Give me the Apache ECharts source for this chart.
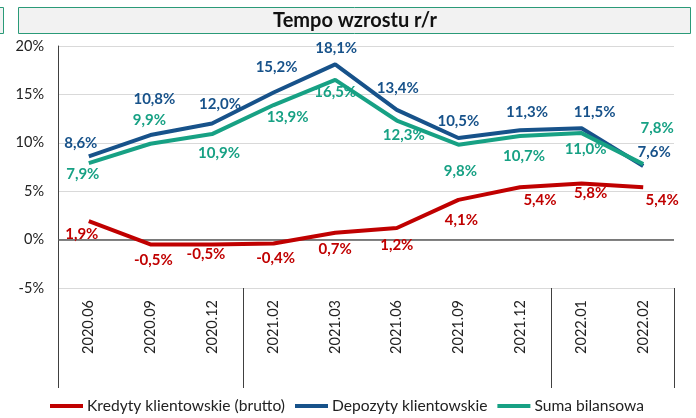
<!DOCTYPE html>
<html>
<head>
<meta charset="utf-8">
<script src="https://cdn.jsdelivr.net/npm/echarts@6/dist/echarts.min.js"></script>
<style>
html,body{margin:0;padding:0;background:#fff;}
#chart{width:696px;height:418px;}
</style>
</head>
<body>
<div id="chart"></div>
<script>
const categories = ['2020.06','2020.09','2020.12','2021.02','2021.03','2021.06','2021.09','2021.12','2022.01','2022.02'];
const kredyty = [1.9, -0.5, -0.5, -0.4, 0.7, 1.2, 4.1, 5.4, 5.8, 5.4];
const depozyty = [8.6, 10.8, 12.0, 15.2, 18.1, 13.4, 10.5, 11.3, 11.5, 7.6];
const suma = [7.9, 9.9, 10.9, 13.9, 16.5, 12.3, 9.8, 10.7, 11.0, 7.8];
const yTicks = [-5, 0, 5, 10, 15, 20];
const groupBreaks = [0, 3, 8, 10];

// label offsets (positions only)
const offKred = [[-7,13],[3,16],[-6,10],[2,15],[0,16],[0,17],[3,20],[20,13],[9,10],[19,13]];
const offDep = [[-8,-13],[4,-36],[8,-19],[3,-25],[1,-16],[1,-22],[0,-17],[7,-18],[13,-16],[11,-14]];
const offSuma = [[-6,11],[-1,-24],[7,19],[14,12],[0,12],[7,15],[2,26],[4,20],[4,16],[14,-36]];

const FONT = 'Lato';
const cRed = '#c00000', cBlue = '#17528a', cGreen = '#17a184';

function series(name, vals, offs, color, extra) {
  return Object.assign({
    name: name,
    type: 'line',
    data: vals,
    symbol: 'circle',
    symbolSize: 0,
    showSymbol: true,
    lineStyle: { width: 4, color: color },
    itemStyle: { color: color },
    label: {
      show: true, position: 'inside', color: color,
      fontFamily: FONT, fontWeight: 'bold', fontSize: 15,
      formatter: p => p.value.toFixed(1).replace('.', ',') + '%'
    },
    labelLayout: function (p) {
      const o = offs[p.dataIndex];
      return { dx: o[0], dy: o[1], hideOverlap: false };
    },
    silent: true,
    z: 3
  }, extra || {});
}

const chart = echarts.init(document.getElementById('chart'), null, { renderer: 'canvas' });
chart.setOption({
  animation: false,
  textStyle: { fontFamily: FONT },
  graphic: [
    { type: 'rect', shape: { x: 18.5, y: 7.5, width: 672, height: 26 }, style: { fill: '#f2f2f2', stroke: '#2a9a78', lineWidth: 1 }, z: 0 },
    { type: 'rect', shape: { x: -20, y: 7.5, width: 23.5, height: 26 }, style: { fill: '#f2f2f2', stroke: '#2a9a78', lineWidth: 1 }, z: 0 },
    { type: 'text', x: 355, y: 21, style: { text: 'Tempo wzrostu r/r', fill: '#111', font: 'bold 20px Lato', textAlign: 'center', textVerticalAlign: 'middle' }, z: 1 }
  ],
  grid: { left: 58, right: 22, top: 46, bottom: 130, containLabel: false },
  legend: {
    top: 393, left: 45,
    icon: 'rect', itemWidth: 33, itemHeight: 4, itemGap: 10,
    textStyle: { fontFamily: FONT, fontSize: 15.6, color: '#222', padding: [0, 0, 0, -1] },
    data: ['Kredyty klientowskie (brutto)', 'Depozyty klientowskie', 'Suma bilansowa']
  },
  xAxis: [{
    type: 'category', data: categories, boundaryGap: true,
    position: 'bottom',
    axisLine: { show: false, onZero: false },
    axisTick: { show: false },
    axisLabel: { rotate: 90, margin: 12, fontFamily: FONT, fontSize: 14.5, color: '#222', interval: 0 }
  }, {
    type: 'value', min: 0, max: categories.length, position: 'bottom',
    axisLine: { show: false, onZero: false },
    axisLabel: { show: false },
    splitLine: { show: false },
    axisTick: { show: true, length: 100, customValues: groupBreaks, lineStyle: { color: '#404040', width: 1 } }
  }],
  yAxis: {
    type: 'value', min: yTicks[0], max: yTicks[yTicks.length - 1], interval: 5,
    axisLine: { show: true, onZero: false, lineStyle: { color: '#404040', width: 1 } },
    axisTick: { show: false },
    axisLabel: { formatter: '{value}%', fontFamily: FONT, fontSize: 14.5, color: '#222', margin: 14 },
    splitLine: { show: true, lineStyle: { color: '#d9d9d9', width: 1 } }
  },
  series: [
    series('Kredyty klientowskie (brutto)', kredyty, offKred, cRed, {
      markLine: {
        silent: true, symbol: 'none', label: { show: false },
        lineStyle: { color: '#595959', width: 1.5, type: 'solid' },
        data: [{ yAxis: 0 }], z: 1
      }
    }),
    series('Depozyty klientowskie', depozyty, offDep, cBlue),
    series('Suma bilansowa', suma, offSuma, cGreen)
  ]
});
</script>
</body>
</html>
